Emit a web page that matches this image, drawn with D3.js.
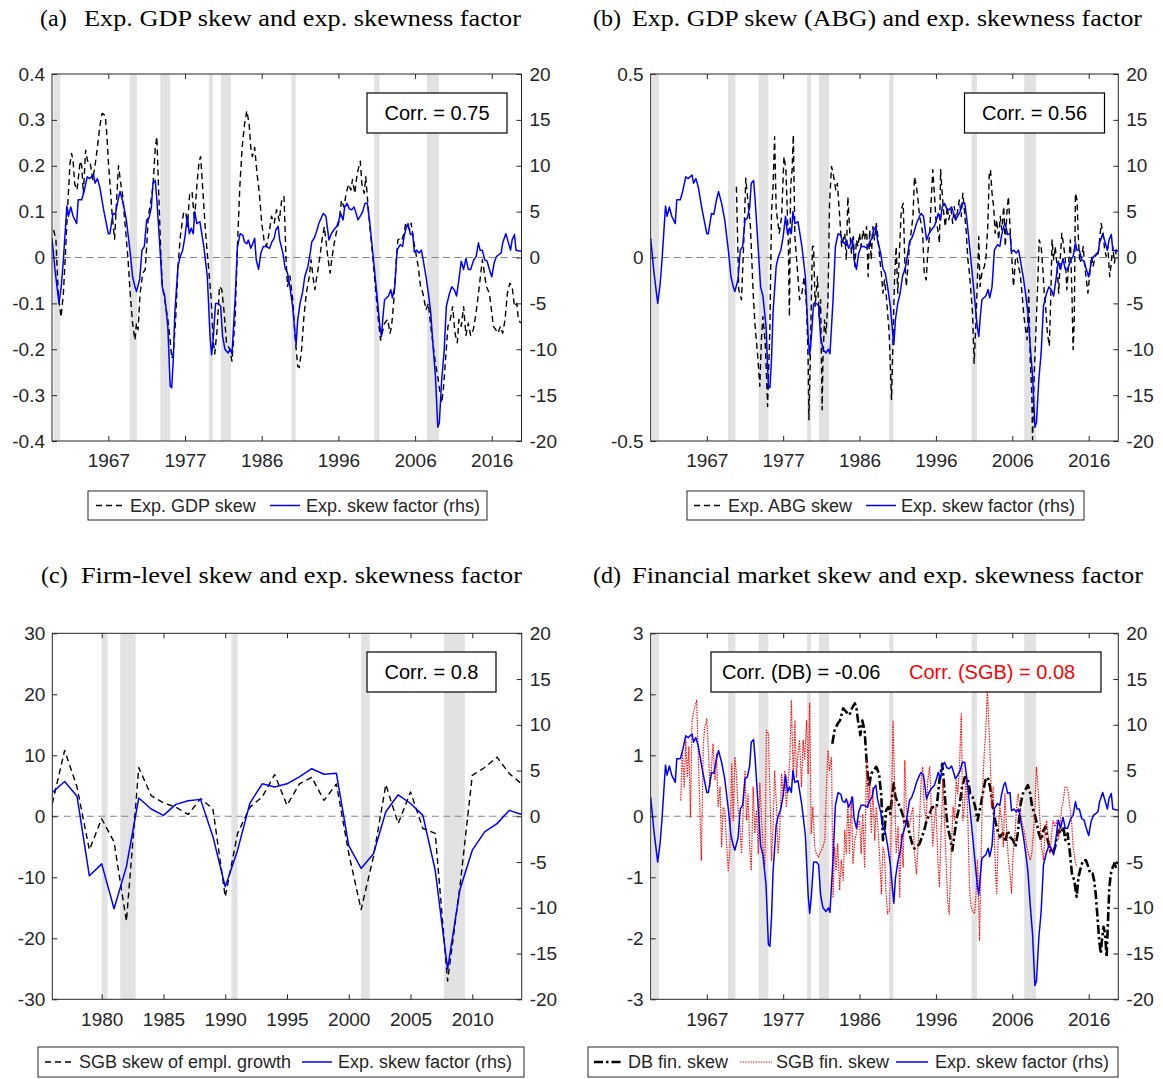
<!DOCTYPE html>
<html><head><meta charset="utf-8">
<script src="https://cdn.jsdelivr.net/npm/d3@7"></script>
<style>body{margin:0;background:#fff}svg{display:block}</style>
</head><body><script>
// ---------------- DATA ----------------
// Expected skewness factor (rhs units), [year, value]
const skewFactor = [[1960.0,2.1],[1960.4,-1.5],[1960.9,-5.0],[1961.2,-3.0],[1961.45,-0.3],[1961.9,5.6],[1962.1,4.5],[1962.4,5.5],[1962.7,4.5],[1963.15,3.7],[1963.35,6.3],[1963.8,6.3],[1964.1,7.2],[1964.5,8.8],[1964.8,8.6],[1965.3,9.0],[1965.5,8.1],[1965.8,8.6],[1966.1,7.7],[1966.6,5.2],[1967.2,2.6],[1967.4,2.6],[1967.8,4.8],[1968.1,4.7],[1968.4,6.1],[1968.7,7.2],[1969.1,5.9],[1969.5,4.1],[1970.0,0.5],[1970.3,-2.1],[1970.6,-3.2],[1970.8,-3.7],[1971.2,-2.4],[1971.5,0.8],[1971.8,1.2],[1972.1,4.1],[1972.4,4.3],[1972.7,5.5],[1972.9,8.1],[1973.2,8.4],[1973.4,6.3],[1973.7,2.3],[1974.1,-3.2],[1974.4,-4.2],[1974.8,-7.5],[1975.1,-14.0],[1975.3,-14.2],[1975.5,-11.1],[1975.7,-6.0],[1976.1,-1.0],[1976.35,0.0],[1976.7,0.8],[1977.0,2.3],[1977.3,4.5],[1977.55,2.6],[1977.8,3.2],[1978.05,2.6],[1978.25,5.0],[1978.5,3.7],[1978.9,3.9],[1979.4,1.2],[1979.85,-2.1],[1980.2,-8.6],[1980.4,-10.6],[1980.6,-8.9],[1980.9,-5.0],[1981.25,-5.0],[1981.55,-5.3],[1981.8,-8.6],[1982.1,-10.0],[1982.5,-10.4],[1982.8,-10.0],[1983.0,-10.5],[1983.4,-4.6],[1983.7,1.2],[1984.05,2.6],[1984.4,2.4],[1984.6,1.7],[1984.9,1.5],[1985.1,1.9],[1985.4,1.0],[1985.6,1.4],[1985.9,2.1],[1986.1,-0.25],[1986.4,-1.3],[1986.7,0.5],[1987.0,1.2],[1987.4,1.2],[1987.8,1.0],[1988.1,1.7],[1988.4,2.1],[1988.6,3.0],[1988.9,3.4],[1989.1,1.9],[1989.5,0.5],[1989.8,-1.2],[1990.1,-1.7],[1990.4,-3.2],[1990.75,-5.3],[1991.05,-8.2],[1991.2,-9.5],[1991.4,-6.8],[1991.7,-5.0],[1992.0,-3.9],[1992.3,-2.1],[1992.7,-1.0],[1993.0,0.5],[1993.2,1.7],[1993.5,2.1],[1993.8,2.8],[1994.1,3.7],[1994.5,4.5],[1994.7,4.8],[1995.0,4.5],[1995.2,3.2],[1995.4,1.9],[1995.7,2.6],[1996.0,3.0],[1996.4,3.4],[1996.6,3.9],[1996.9,4.8],[1997.2,4.1],[1997.4,5.5],[1997.7,5.9],[1998.0,5.3],[1998.3,5.2],[1998.6,5.5],[1998.8,5.0],[1999.1,4.1],[1999.4,4.5],[1999.7,5.0],[2000.0,5.9],[2000.3,5.9],[2000.6,3.9],[2001.0,0.5],[2001.5,-3.9],[2001.9,-7.5],[2002.1,-8.6],[2002.3,-6.4],[2002.5,-4.6],[2003.0,-4.2],[2003.3,-3.5],[2003.5,-4.4],[2003.8,-3.2],[2004.1,0.8],[2004.5,1.4],[2004.8,1.2],[2005.0,2.3],[2005.3,3.4],[2005.5,3.7],[2005.8,2.5],[2006.1,2.6],[2006.3,0.6],[2006.6,0.8],[2006.9,0.5],[2007.2,0.8],[2007.4,-0.1],[2007.8,-2.1],[2008.1,-3.9],[2008.4,-6.0],[2008.7,-9.7],[2009.0,-12.9],[2009.3,-18.5],[2009.5,-18.0],[2009.8,-13.3],[2010.1,-10.4],[2010.4,-5.3],[2010.8,-3.9],[2011.1,-3.2],[2011.4,-3.5],[2011.7,-4.2],[2012.0,-2.4],[2012.3,-0.4],[2012.6,-1.3],[2012.9,-0.1],[2013.2,-1.3],[2013.5,-1.3],[2013.9,-0.25],[2014.2,0.1],[2014.5,1.6],[2014.7,0.8],[2015.0,0.8],[2015.3,-0.25],[2015.6,-0.4],[2015.9,-1.3],[2016.2,-2.1],[2016.5,-0.6],[2016.8,0.1],[2017.1,0.3],[2017.4,0.5],[2017.6,1.6],[2018.0,2.6],[2018.3,1.7],[2018.6,0.8],[2018.8,1.9],[2019.1,2.5],[2019.3,0.8],[2019.7,0.7],[2020.0,0.7]];

// (a) Expected GDP skew (lhs)
const gdpSkew = [[1960.2,0.06],[1960.5,0.04],[1960.8,-0.08],[1961.15,-0.13],[1961.45,-0.08],[1961.75,0.02],[1962.0,0.11],[1962.3,0.205],[1962.5,0.227],[1962.7,0.21],[1962.9,0.16],[1963.2,0.147],[1963.6,0.21],[1963.8,0.2],[1964.0,0.14],[1964.3,0.234],[1964.55,0.21],[1964.85,0.21],[1965.2,0.17],[1965.5,0.2],[1965.8,0.24],[1966.1,0.285],[1966.4,0.314],[1966.8,0.31],[1967.0,0.27],[1967.2,0.21],[1967.5,0.14],[1967.7,0.09],[1968.0,0.04],[1968.3,0.14],[1968.5,0.2],[1968.8,0.16],[1969.0,0.14],[1969.3,0.08],[1969.7,0.0],[1970.0,-0.08],[1970.3,-0.143],[1970.6,-0.18],[1970.8,-0.143],[1971.0,-0.157],[1971.25,-0.08],[1971.6,-0.034],[1971.9,-0.027],[1972.1,0.024],[1972.3,0.09],[1972.6,0.118],[1972.9,0.154],[1973.2,0.24],[1973.4,0.263],[1973.6,0.16],[1973.9,0.01],[1974.1,-0.063],[1974.4,-0.09],[1974.8,-0.135],[1975.1,-0.18],[1975.3,-0.22],[1975.5,-0.21],[1975.8,-0.135],[1976.1,-0.02],[1976.4,0.046],[1976.8,0.096],[1977.1,0.1],[1977.3,0.067],[1977.6,0.14],[1977.9,0.143],[1978.2,0.08],[1978.5,0.154],[1978.8,0.21],[1979.0,0.22],[1979.3,0.14],[1979.6,0.06],[1979.95,-0.012],[1980.3,-0.08],[1980.6,-0.18],[1980.8,-0.21],[1981.1,-0.157],[1981.4,-0.063],[1981.7,-0.07],[1982.0,-0.12],[1982.3,-0.186],[1982.7,-0.2],[1983.0,-0.226],[1983.4,-0.135],[1983.7,0.024],[1984.0,0.154],[1984.3,0.24],[1984.6,0.29],[1984.9,0.32],[1985.2,0.29],[1985.4,0.24],[1985.6,0.22],[1985.9,0.24],[1986.2,0.183],[1986.5,0.14],[1986.8,0.075],[1987.1,0.038],[1987.4,0.024],[1987.75,0.053],[1988.05,0.09],[1988.4,0.075],[1988.7,0.104],[1989.05,0.08],[1989.35,0.125],[1989.65,0.133],[1989.9,0.0],[1990.1,-0.063],[1990.4,-0.04],[1990.75,-0.09],[1991.05,-0.17],[1991.4,-0.237],[1991.6,-0.24],[1991.9,-0.2],[1992.2,-0.128],[1992.5,-0.078],[1992.9,-0.04],[1993.1,-0.005],[1993.4,-0.048],[1993.6,-0.07],[1993.85,-0.04],[1994.05,-0.02],[1994.3,0.01],[1994.5,0.038],[1994.8,0.067],[1995.0,0.038],[1995.25,0.0],[1995.55,-0.034],[1995.75,-0.005],[1996.05,0.03],[1996.4,0.06],[1996.7,0.08],[1997.0,0.125],[1997.3,0.11],[1997.6,0.14],[1997.9,0.16],[1998.2,0.147],[1998.4,0.17],[1998.7,0.14],[1998.9,0.17],[1999.1,0.19],[1999.4,0.21],[1999.6,0.16],[1999.9,0.14],[2000.1,0.176],[2000.4,0.11],[2000.7,0.053],[2001.0,0.0],[2001.4,-0.078],[2001.7,-0.135],[2002.0,-0.18],[2002.2,-0.165],[2002.5,-0.143],[2002.9,-0.135],[2003.2,-0.165],[2003.4,-0.15],[2003.7,-0.09],[2004.0,-0.005],[2004.2,0.038],[2004.5,0.042],[2004.7,0.038],[2005.0,0.053],[2005.2,0.075],[2005.5,0.067],[2005.7,0.06],[2005.9,0.075],[2006.2,0.038],[2006.5,0.01],[2006.8,-0.02],[2007.1,-0.063],[2007.4,-0.078],[2007.8,-0.114],[2008.1,-0.1],[2008.4,-0.15],[2008.7,-0.19],[2009.0,-0.23],[2009.3,-0.26],[2009.6,-0.295],[2009.8,-0.317],[2010.0,-0.29],[2010.3,-0.222],[2010.6,-0.15],[2010.9,-0.135],[2011.2,-0.107],[2011.5,-0.165],[2011.8,-0.186],[2012.0,-0.135],[2012.3,-0.15],[2012.6,-0.107],[2012.9,-0.17],[2013.2,-0.143],[2013.5,-0.17],[2013.85,-0.157],[2014.2,-0.12],[2014.5,-0.078],[2014.8,-0.034],[2015.0,-0.005],[2015.2,-0.027],[2015.5,-0.063],[2015.9,-0.078],[2016.2,-0.12],[2016.4,-0.15],[2016.7,-0.157],[2017.0,-0.165],[2017.3,-0.15],[2017.6,-0.165],[2017.9,-0.135],[2018.2,-0.078],[2018.5,-0.056],[2018.8,-0.063],[2019.1,-0.107],[2019.4,-0.1],[2019.6,-0.135],[2019.9,-0.143]];

// (b) Expected ABG skew (lhs)
const abgSkew = [[1971.0,0.193],[1971.3,-0.088],[1971.65,-0.115],[1971.95,0.048],[1972.2,0.216],[1972.5,0.148],[1972.8,0.084],[1973.15,-0.097],[1973.4,-0.188],[1973.7,-0.26],[1974.0,-0.351],[1974.2,-0.224],[1974.4,-0.161],[1974.7,-0.233],[1975.0,-0.406],[1975.3,-0.188],[1975.5,0.121],[1975.7,0.193],[1975.9,0.329],[1976.1,0.13],[1976.5,0.066],[1976.8,0.112],[1977.1,0.275],[1977.35,0.239],[1977.65,0.048],[1977.8,-0.161],[1977.95,0.193],[1978.15,0.239],[1978.3,0.334],[1978.5,0.057],[1978.8,-0.025],[1979.1,-0.115],[1979.4,-0.097],[1979.7,-0.052],[1980.0,-0.133],[1980.2,-0.279],[1980.3,-0.442],[1980.5,-0.251],[1980.75,0.03],[1980.9,0.03],[1981.1,-0.133],[1981.4,-0.052],[1981.6,-0.161],[1981.8,-0.115],[1982.0,-0.415],[1982.1,-0.279],[1982.3,-0.17],[1982.5,-0.206],[1982.75,-0.115],[1982.95,0.148],[1983.2,0.248],[1983.4,0.23],[1983.75,0.184],[1983.95,0.202],[1984.25,0.112],[1984.5,0.03],[1984.7,0.048],[1984.9,0.066],[1985.1,-0.006],[1985.3,0.166],[1985.5,0.084],[1985.75,0.012],[1986.0,0.057],[1986.2,-0.025],[1986.4,0.048],[1986.6,0.03],[1986.8,0.066],[1987.0,0.03],[1987.25,0.075],[1987.45,0.048],[1987.7,0.084],[1987.9,-0.052],[1988.1,0.075],[1988.3,-0.006],[1988.5,0.084],[1988.7,0.048],[1988.95,0.093],[1989.15,0.057],[1989.4,-0.006],[1989.6,-0.043],[1989.8,-0.097],[1990.0,-0.061],[1990.2,-0.097],[1990.6,-0.206],[1990.9,-0.387],[1991.1,-0.215],[1991.3,-0.052],[1991.5,0.03],[1991.7,-0.097],[1991.95,0.03],[1992.15,0.13],[1992.4,0.148],[1992.6,-0.006],[1992.8,-0.079],[1993.0,-0.025],[1993.2,0.03],[1993.45,0.075],[1993.65,0.112],[1993.85,0.22],[1994.1,0.193],[1994.3,0.157],[1994.5,0.112],[1994.7,0.093],[1994.9,0.066],[1995.1,-0.043],[1995.35,-0.061],[1995.55,0.012],[1995.8,0.066],[1996.0,0.157],[1996.2,0.239],[1996.4,0.175],[1996.6,0.103],[1996.85,0.075],[1997.05,0.039],[1997.2,0.239],[1997.4,0.175],[1997.6,0.121],[1997.8,0.084],[1998.05,0.139],[1998.25,0.103],[1998.55,0.13],[1998.75,0.093],[1998.95,0.139],[1999.2,0.103],[1999.4,0.13],[1999.6,0.157],[1999.85,0.112],[2000.05,0.175],[2000.25,0.13],[2000.5,0.066],[2000.7,-0.006],[2000.9,-0.043],[2001.1,-0.097],[2001.3,-0.152],[2001.5,-0.288],[2001.75,-0.17],[2001.95,-0.043],[2002.1,0.057],[2002.25,-0.079],[2002.5,-0.043],[2002.8,-0.025],[2003.0,-0.006],[2003.25,0.084],[2003.45,0.23],[2003.6,0.239],[2003.8,0.175],[2004.0,0.139],[2004.2,0.066],[2004.4,0.103],[2004.65,0.048],[2004.85,0.112],[2005.05,0.075],[2005.3,0.139],[2005.5,0.03],[2005.7,0.121],[2005.9,0.166],[2006.15,0.066],[2006.35,-0.006],[2006.55,-0.079],[2006.8,-0.006],[2007.0,0.003],[2007.2,-0.025],[2007.4,-0.043],[2007.65,-0.097],[2007.85,-0.152],[2008.05,-0.188],[2008.3,-0.224],[2008.5,-0.088],[2008.7,-0.279],[2008.9,-0.369],[2009.0,-0.496],[2009.2,-0.324],[2009.45,-0.188],[2009.65,-0.079],[2009.85,0.048],[2010.1,0.03],[2010.3,-0.025],[2010.5,-0.097],[2010.7,-0.142],[2010.9,-0.206],[2011.15,-0.242],[2011.35,-0.097],[2011.5,0.048],[2011.7,-0.006],[2011.9,0.03],[2012.15,-0.025],[2012.35,-0.097],[2012.55,-0.006],[2012.75,0.066],[2013.0,0.03],[2013.2,-0.006],[2013.4,-0.088],[2013.6,-0.025],[2013.85,0.048],[2014.05,-0.097],[2014.2,-0.251],[2014.35,-0.17],[2014.5,0.175],[2014.7,0.157],[2014.85,0.066],[2015.05,-0.015],[2015.25,-0.006],[2015.5,0.03],[2015.7,-0.025],[2015.9,-0.061],[2016.1,-0.097],[2016.35,-0.043],[2016.55,0.003],[2016.75,-0.025],[2016.95,-0.006],[2017.2,0.012],[2017.4,0.003],[2017.6,0.048],[2017.8,0.093],[2018.05,0.066],[2018.25,0.021],[2018.45,0.003],[2018.65,0.03],[2018.9,-0.052],[2019.1,-0.015],[2019.3,0.03],[2019.5,-0.015],[2019.75,0.021],[2019.95,0.012]];

// (c) annual firm-level data
const firmYears = [1976,1977,1978,1979,1980,1981,1982,1983,1984,1985,1986,1987,1988,1989,1990,1991,1992,1993,1994,1995,1996,1997,1998,1999,2000,2001,2002,2003,2004,2005,2006,2007,2008,2009,2010,2011,2012,2013,2014];
const sgbEmplSkew = [2.1,10.8,4.8,-5.5,-0.4,-4.2,-17.2,8.0,3.4,2.2,1.5,0.3,2.9,1.25,-13.2,-2.8,1.5,3.2,6.85,1.8,5.3,6.4,2.6,5.3,-6.1,-15.3,-6.6,5.2,-1.2,4.0,-2.0,-2.8,-27.0,-11.5,6.7,8.0,9.7,7.0,5.3];
const skewFactorAnnual = [2.6,3.8,2.2,-6.5,-5.2,-10.1,-5.5,2.0,0.8,0.1,1.3,1.7,1.85,-2.2,-7.7,-3.7,1.45,3.55,3.2,3.55,4.3,5.2,4.6,4.7,-3.2,-5.7,-4.1,0.5,2.35,1.4,0.1,-5.9,-16.7,-8.0,-3.7,-1.7,-0.8,0.65,0.2];

// (d) DB financial skew (lhs)
const dbFinSkew = [[1983.3,1.19],[1983.6,1.41],[1984.0,1.52],[1984.3,1.57],[1984.7,1.77],[1985.1,1.71],[1985.5,1.66],[1985.9,1.79],[1986.2,1.85],[1986.4,1.77],[1986.6,1.57],[1986.9,1.33],[1987.15,1.57],[1987.45,1.41],[1987.75,0.81],[1988.0,0.48],[1988.3,0.70],[1988.6,0.75],[1988.95,0.81],[1989.3,0.70],[1989.6,0.32],[1989.8,-0.39],[1990.0,-0.28],[1990.2,0.10],[1990.5,0.15],[1990.75,0.04],[1991.0,0.37],[1991.2,0.54],[1991.4,0.32],[1991.7,0.23],[1992.0,0.15],[1992.3,0.04],[1992.6,-0.12],[1992.9,-0.07],[1993.2,-0.28],[1993.55,-0.45],[1993.85,-0.53],[1994.15,-0.50],[1994.5,-0.45],[1994.8,-0.34],[1995.1,-0.23],[1995.4,-0.07],[1995.8,0.04],[1996.1,0.15],[1996.4,0.15],[1996.7,0.15],[1997.05,0.59],[1997.4,0.86],[1997.6,0.59],[1997.85,0.15],[1998.1,-0.17],[1998.4,-0.34],[1998.7,-0.56],[1999.0,-0.28],[1999.3,-0.01],[1999.6,0.15],[1999.95,0.48],[2000.3,0.64],[2000.6,0.64],[2000.8,0.54],[2001.0,0.37],[2001.3,0.32],[2001.65,0.15],[2001.95,-0.07],[2002.3,0.15],[2002.6,0.37],[2002.95,0.59],[2003.25,0.64],[2003.55,0.48],[2003.9,0.15],[2004.2,-0.07],[2004.5,-0.23],[2004.8,-0.34],[2005.2,-0.28],[2005.5,-0.42],[2005.8,-0.23],[2006.1,-0.34],[2006.5,-0.39],[2006.8,-0.50],[2007.1,-0.28],[2007.4,0.15],[2007.75,0.37],[2008.05,0.43],[2008.4,0.51],[2008.7,0.37],[2008.95,0.15],[2009.25,0.04],[2009.55,-0.12],[2009.8,-0.28],[2010.1,-0.39],[2010.4,-0.23],[2010.65,-0.17],[2010.95,-0.39],[2011.25,-0.56],[2011.6,-0.61],[2011.9,-0.50],[2012.1,-0.34],[2012.35,-0.23],[2012.65,-0.28],[2012.95,-0.17],[2013.2,-0.39],[2013.5,-0.28],[2013.8,-0.61],[2014.05,-0.94],[2014.35,-1.05],[2014.65,-1.32],[2014.9,-0.99],[2015.2,-0.83],[2015.5,-0.72],[2015.85,-0.72],[2016.15,-0.83],[2016.4,-0.94],[2016.7,-0.94],[2016.9,-1.05],[2017.1,-1.27],[2017.3,-1.60],[2017.55,-2.03],[2017.75,-2.25],[2017.9,-2.03],[2018.1,-1.81],[2018.3,-1.92],[2018.5,-2.31],[2018.65,-1.81],[2018.85,-1.16],[2019.05,-0.94],[2019.3,-0.83],[2019.5,-0.78],[2019.7,-0.83],[2019.9,-0.72]];

// (d) SGB financial skew (lhs)
const sgbFinSkew = [[1963.85,0.26],[1964.05,1.08],[1964.3,0.48],[1964.5,1.25],[1964.7,0.64],[1964.9,1.14],[1965.1,-0.01],[1965.3,1.57],[1965.55,1.74],[1965.9,1.90],[1966.1,1.03],[1966.3,0.15],[1966.5,-0.72],[1966.75,1.19],[1966.95,1.46],[1967.2,1.60],[1967.4,1.08],[1967.6,0.48],[1967.8,0.81],[1968.0,1.19],[1968.25,0.59],[1968.45,1.03],[1968.65,0.15],[1968.9,0.48],[1969.1,-0.50],[1969.3,0.15],[1969.5,0.10],[1969.7,-0.39],[1969.95,-0.89],[1970.15,-0.61],[1970.4,0.86],[1970.6,-0.07],[1970.8,0.97],[1971.0,0.70],[1971.2,0.15],[1971.45,-0.17],[1971.65,-0.61],[1971.85,0.04],[1972.1,0.75],[1972.3,-0.07],[1972.5,0.37],[1972.7,-0.50],[1972.9,-0.89],[1973.15,0.48],[1973.35,-0.28],[1973.6,0.10],[1973.8,-0.61],[1974.0,0.54],[1974.2,0.04],[1974.45,-0.61],[1974.65,-0.83],[1974.85,1.41],[1975.1,1.36],[1975.3,0.37],[1975.5,-0.72],[1975.7,-0.17],[1975.9,0.75],[1976.15,0.15],[1976.35,-0.61],[1976.55,-0.28],[1976.8,0.70],[1977.0,0.32],[1977.2,0.75],[1977.4,0.15],[1977.65,0.59],[1977.85,0.92],[1978.05,1.90],[1978.3,0.59],[1978.5,1.57],[1978.7,0.64],[1978.9,1.03],[1979.1,1.25],[1979.35,0.48],[1979.55,1.25],[1979.75,0.92],[1980.0,1.57],[1980.2,0.70],[1980.4,1.85],[1980.6,-0.28],[1980.8,0.15],[1981.05,-0.50],[1981.25,-0.61],[1981.5,-0.67],[1981.7,-0.61],[1981.9,-0.56],[1982.1,-0.50],[1982.35,-0.39],[1982.55,0.48],[1982.75,1.08],[1982.95,0.75],[1983.2,0.97],[1983.4,-1.32],[1983.6,-0.50],[1983.8,-0.89],[1984.0,-0.45],[1984.25,-1.21],[1984.45,-0.72],[1984.7,-1.05],[1984.9,-0.23],[1985.1,-0.61],[1985.3,0.26],[1985.5,-0.61],[1985.75,0.32],[1985.95,-0.78],[1986.2,-0.39],[1986.4,-0.28],[1986.6,-0.12],[1986.8,-0.07],[1987.0,-0.61],[1987.2,0.04],[1987.45,-0.83],[1987.7,0.92],[1987.9,0.15],[1988.1,0.54],[1988.3,-0.28],[1988.5,0.48],[1988.75,-0.39],[1988.95,0.15],[1989.15,-0.17],[1989.4,-0.72],[1989.6,-1.27],[1989.8,-0.50],[1990.0,-0.61],[1990.2,-1.27],[1990.4,-1.60],[1990.65,-1.54],[1990.85,-0.17],[1991.1,1.57],[1991.3,0.48],[1991.5,-0.61],[1991.75,-0.17],[1991.95,-1.32],[1992.15,-0.28],[1992.4,-0.83],[1992.6,0.92],[1992.8,0.15],[1993.0,-0.07],[1993.2,-0.17],[1993.45,0.04],[1993.65,0.15],[1993.85,-0.61],[1994.1,-0.94],[1994.3,-0.50],[1994.5,-0.07],[1994.7,0.59],[1994.9,0.81],[1995.1,0.15],[1995.35,-0.07],[1995.55,0.59],[1995.8,0.81],[1996.0,0.15],[1996.2,-0.50],[1996.4,-0.07],[1996.6,0.15],[1996.85,-0.72],[1997.05,-1.16],[1997.25,-0.28],[1997.5,0.59],[1997.7,-0.07],[1997.9,-0.72],[1998.1,-1.38],[1998.3,-1.60],[1998.55,-0.61],[1998.8,0.15],[1999.0,-0.07],[1999.2,0.59],[1999.4,0.37],[1999.6,0.75],[1999.85,1.68],[2000.05,-0.07],[2000.25,0.15],[2000.5,0.70],[2000.7,-0.07],[2000.9,-1.16],[2001.1,-1.49],[2001.3,-1.54],[2001.55,-1.60],[2001.75,-1.27],[2001.95,-0.72],[2002.2,-2.03],[2002.4,-0.61],[2002.6,0.48],[2002.8,1.03],[2003.0,1.41],[2003.2,2.07],[2003.55,1.03],[2003.75,0.15],[2003.95,0.48],[2004.15,-0.61],[2004.4,-1.27],[2004.6,-0.28],[2004.8,0.15],[2005.05,-0.07],[2005.25,-0.50],[2005.45,0.37],[2005.7,-0.28],[2005.9,-0.72],[2006.1,-0.94],[2006.3,-1.27],[2006.5,-0.61],[2006.75,-0.28],[2006.95,0.15],[2007.15,0.37],[2007.4,0.15],[2007.6,-0.07],[2007.8,-0.17],[2008.05,-0.34],[2008.25,-0.50],[2008.45,-0.61],[2008.7,-0.72],[2008.9,-0.61],[2009.1,-0.28],[2009.3,0.15],[2009.5,0.81],[2009.7,0.48],[2009.95,-0.07],[2010.15,-0.50],[2010.4,-0.72],[2010.6,-0.28],[2010.8,-0.07],[2011.05,-0.39],[2011.25,-0.61],[2011.45,-0.28],[2011.65,-0.07],[2011.9,-0.17],[2012.1,-0.07],[2012.3,-0.39],[2012.5,-0.17],[2012.75,0.15],[2012.95,0.26],[2013.15,0.48],[2013.4,0.48],[2013.6,0.37],[2013.8,0.15],[2014.0,-0.07],[2014.2,-0.50],[2014.45,-0.72],[2014.65,-0.83]];

// NBER recessions [start, end]
const recessions = [[1960.2,1961.05],[1969.92,1970.87],[1973.84,1975.1],[1980.05,1980.55],[1981.6,1982.87],[1990.6,1991.15],[2001.17,2001.87],[2007.93,2009.45]];
const recessionsAnnual = [[1980.0,1980.47],[1981.5,1982.75],[1990.5,1991.0],[2001.0,2001.7],[2007.7,2009.4]];

// ticks & labels
const yearTicks = [1967.2,1977.0,1986.8,1996.6,2006.4,2016.2];
const yearTickLabels = ["1967","1977","1986","1996","2006","2016"];
const firmTicks = [1980,1985,1990,1995,2000,2005,2010];
const firmTickLabels = ["1980","1985","1990","1995","2000","2005","2010"];
const rhsTicks = [-20,-15,-10,-5,0,5,10,15,20];
const rhsTickLabels = ["-20","-15","-10","-5","0","5","10","15","20"];
const aTicks = [-0.4,-0.3,-0.2,-0.1,0,0.1,0.2,0.3,0.4];
const aTickLabels = ["-0.4","-0.3","-0.2","-0.1","0","0.1","0.2","0.3","0.4"];
const bTicks = [-0.5,0,0.5];
const bTickLabels = ["-0.5","0","0.5"];
const cTicks = [-30,-20,-10,0,10,20,30];
const cTickLabels = ["-30","-20","-10","0","10","20","30"];
const dTicks = [-3,-2,-1,0,1,2,3];
const dTickLabels = ["-3","-2","-1","0","1","2","3"];

// ---------------- DRAWING ----------------
const W = 1163, H = 1079;
const SANS = "'Liberation Sans', Arial, Helvetica, sans-serif";
const SERIF = "'Liberation Serif', 'Times New Roman', serif";
const AX = "#262626";
const BLUE = "#0000ff";
const svg = d3.select("body").append("svg").attr("width", W).attr("height", H);

const STY = {
  factor: {stroke: BLUE, width: 1.5, dash: null},
  dashed: {stroke: "#000", width: 1.4, dash: "6,4"},
  dashdot: {stroke: "#000", width: 2.6, dash: "9,3,2.5,3"},
  dotted: {stroke: "#ff0000", width: 1.2, dash: "1.4,1.2"}
};

function panel(cfg) {
  const [x0, x1, y0, y1] = cfg.rect;
  const xs = d3.scaleLinear().domain(cfg.xDomain).range([x0, x1]);
  const yl = d3.scaleLinear().domain(cfg.lDomain).range([y1, y0]);
  const yr = d3.scaleLinear().domain([-20, 20]).range([y1, y0]);
  const g = svg.append("g");
  const cid = "clip-" + cfg.id;
  g.append("clipPath").attr("id", cid).append("rect")
    .attr("x", x0).attr("y", y0).attr("width", x1 - x0).attr("height", y1 - y0);
  const inner = g.append("g").attr("clip-path", `url(#${cid})`);
  inner.selectAll("rect.rec").data(cfg.recessions).join("rect").attr("class", "rec")
    .attr("x", d => xs(d[0])).attr("width", d => xs(d[1]) - xs(d[0]))
    .attr("y", y0).attr("height", y1 - y0).attr("fill", "#e2e2e2");
  inner.append("line").attr("x1", x0).attr("x2", x1).attr("y1", yl(0)).attr("y2", yl(0))
    .attr("stroke", "#858585").attr("stroke-width", 1.1).attr("stroke-dasharray", "7,4.5");
  cfg.series.forEach(s => {
    const ys = s.axis === "right" ? yr : yl;
    const line = d3.line().x(d => xs(d[0])).y(d => ys(d[1]));
    const st = STY[s.style];
    inner.append("path").datum(s.data).attr("d", line).attr("fill", "none")
      .attr("stroke", st.stroke).attr("stroke-width", st.width)
      .attr("stroke-dasharray", st.dash).attr("stroke-linejoin", "round");
  });
  // axes
  const fmt = (labels, ticks) => (d) => labels[ticks.indexOf(d)];
  const styleAxis = sel => {
    sel.select(".domain").remove();
    sel.selectAll(".tick line").attr("stroke", AX).attr("stroke-width", 1);
    sel.selectAll(".tick text").attr("fill", AX).attr("font-family", SANS).attr("font-size", 19);
  };
  g.append("g").attr("transform", `translate(${x0},0)`)
    .call(d3.axisLeft(yl).tickValues(cfg.lTicks).tickFormat(fmt(cfg.lLabels, cfg.lTicks)).tickSizeInner(-5).tickSizeOuter(0).tickPadding(7))
    .call(styleAxis);
  g.append("g").attr("transform", `translate(${x1},0)`)
    .call(d3.axisRight(yr).tickValues(rhsTicks).tickFormat(fmt(rhsTickLabels, rhsTicks)).tickSizeInner(-5).tickSizeOuter(0).tickPadding(8))
    .call(styleAxis);
  g.append("g").attr("transform", `translate(0,${y1})`)
    .call(d3.axisBottom(xs).tickValues(cfg.xTicks).tickFormat(fmt(cfg.xLabels, cfg.xTicks)).tickSizeInner(-5).tickSizeOuter(0).tickPadding(13))
    .call(styleAxis);
  g.append("g").attr("transform", `translate(0,${y0})`)
    .call(d3.axisTop(xs).tickValues(cfg.xTicks).tickFormat("").tickSizeInner(-5).tickSizeOuter(0))
    .call(styleAxis);
  g.append("rect").attr("x", x0).attr("y", y0).attr("width", x1 - x0).attr("height", y1 - y0)
    .attr("fill", "none").attr("stroke", AX).attr("stroke-width", 1);

  // correlation box
  const cb = cfg.corr;
  g.append("rect").attr("x", cb.box[0]).attr("y", cb.box[1]).attr("width", cb.box[2]).attr("height", cb.box[3])
    .attr("fill", "#fff").attr("stroke", "#000").attr("stroke-width", 1.2);
  cb.texts.forEach(t => {
    g.append("text").attr("x", t.x).attr("y", cb.box[1] + cb.box[3] / 2).attr("dy", "0.35em")
      .attr("text-anchor", t.anchor || "start").attr("font-family", SANS).attr("font-size", 20)
      .attr("fill", t.color).text(t.text);
  });

  // title
  svg.append("text").attr("x", cfg.title.x).attr("y", cfg.title.y).attr("font-family", SERIF)
    .attr("font-size", 24).attr("fill", "#000").text(cfg.title.tag);
  svg.append("text").attr("x", cfg.title.mx).attr("y", cfg.title.y).attr("font-family", SERIF)
    .attr("font-size", 24).attr("fill", "#000").attr("textLength", cfg.title.mw).attr("lengthAdjust", "spacingAndGlyphs")
    .text(cfg.title.text);

  // legend
  const L = cfg.legend;
  svg.append("rect").attr("x", L.box[0]).attr("y", L.box[1]).attr("width", L.box[2]).attr("height", L.box[3])
    .attr("fill", "#fff").attr("stroke", AX).attr("stroke-width", 1);
  const cy = L.box[1] + L.box[3] / 2;
  L.items.forEach(it => {
    const st = STY[it.style];
    svg.append("line").attr("x1", it.sx).attr("x2", it.sx + it.len).attr("y1", cy).attr("y2", cy)
      .attr("stroke", st.stroke).attr("stroke-width", st.width).attr("stroke-dasharray", st.dash);
    svg.append("text").attr("x", it.tx).attr("y", cy).attr("dy", "0.35em").attr("font-family", SANS)
      .attr("font-size", 18).attr("fill", AX).text(it.text);
  });
}

const firmBlack = firmYears.map((y, i) => [y, sgbEmplSkew[i]]);
const firmBlue = firmYears.map((y, i) => [y, skewFactorAnnual[i]]);

panel({
  id: "a", rect: [52, 521.5, 74, 441], xDomain: [1960, 2020], lDomain: [-0.4, 0.4],
  lTicks: aTicks, lLabels: aTickLabels, xTicks: yearTicks, xLabels: yearTickLabels, recessions: recessions,
  series: [{data: gdpSkew, axis: "left", style: "dashed"}, {data: skewFactor, axis: "right", style: "factor"}],
  corr: {box: [367, 93, 140, 40], texts: [{x: 437, anchor: "middle", text: "Corr. = 0.75", color: "#000"}]},
  title: {x: 40, mx: 84, mw: 437, y: 26, tag: "(a)", text: "Exp. GDP skew and exp. skewness factor"},
  legend: {box: [88, 491, 399, 29], items: [
    {sx: 96, len: 29, tx: 130, style: "dashed", text: "Exp. GDP skew"},
    {sx: 270, len: 30, tx: 306, style: "factor", text: "Exp. skew factor (rhs)"}]}
});

panel({
  id: "b", rect: [650.7, 1118.3, 74, 441], xDomain: [1960, 2020], lDomain: [-0.5, 0.5],
  lTicks: bTicks, lLabels: bTickLabels, xTicks: yearTicks, xLabels: yearTickLabels, recessions: recessions,
  series: [{data: abgSkew, axis: "left", style: "dashed"}, {data: skewFactor, axis: "right", style: "factor"}],
  corr: {box: [964.5, 93, 140, 40], texts: [{x: 1034.5, anchor: "middle", text: "Corr. = 0.56", color: "#000"}]},
  title: {x: 593, mx: 632, mw: 510, y: 26, tag: "(b)", text: "Exp. GDP skew (ABG) and exp. skewness factor"},
  legend: {box: [687, 491, 397, 29], items: [
    {sx: 694, len: 29, tx: 728, style: "dashed", text: "Exp. ABG skew"},
    {sx: 866, len: 30, tx: 901, style: "factor", text: "Exp. skew factor (rhs)"}]}
});

panel({
  id: "c", rect: [52.3, 521.7, 633.3, 999.3], xDomain: [1976, 2014], lDomain: [-30, 30],
  lTicks: cTicks, lLabels: cTickLabels, xTicks: firmTicks, xLabels: firmTickLabels, recessions: recessionsAnnual,
  series: [{data: firmBlack, axis: "left", style: "dashed"}, {data: firmBlue, axis: "right", style: "factor"}],
  corr: {box: [367, 652, 129, 40], texts: [{x: 431.5, anchor: "middle", text: "Corr. = 0.8", color: "#000"}]},
  title: {x: 41, mx: 81, mw: 441, y: 583, tag: "(c)", text: "Firm-level skew and exp. skewness factor"},
  legend: {box: [38, 1047, 486, 30], items: [
    {sx: 45, len: 29, tx: 79, style: "dashed", text: "SGB skew of empl. growth"},
    {sx: 302, len: 30, tx: 338, style: "factor", text: "Exp. skew factor (rhs)"}]}
});

panel({
  id: "d", rect: [650.7, 1118.3, 633.3, 999.3], xDomain: [1960, 2020], lDomain: [-3, 3],
  lTicks: dTicks, lLabels: dTickLabels, xTicks: yearTicks, xLabels: yearTickLabels, recessions: recessions,
  series: [{data: dbFinSkew, axis: "left", style: "dashdot"}, {data: sgbFinSkew, axis: "left", style: "dotted"},
           {data: skewFactor, axis: "right", style: "factor"}],
  corr: {box: [711, 652, 390, 40], texts: [
    {x: 722, text: "Corr. (DB) = -0.06", color: "#000"},
    {x: 909, text: "Corr. (SGB) = 0.08", color: "#ff0000"}]},
  title: {x: 593, mx: 632, mw: 511, y: 583, tag: "(d)", text: "Financial market skew and exp. skewness factor"},
  legend: {box: [588, 1047, 530, 30], items: [
    {sx: 594, len: 29, tx: 628, style: "dashdot", text: "DB fin. skew"},
    {sx: 740, len: 32, tx: 776, style: "dotted", text: "SGB fin. skew"},
    {sx: 896, len: 32, tx: 935, style: "factor", text: "Exp. skew factor (rhs)"}]}
});
</script></body></html>
